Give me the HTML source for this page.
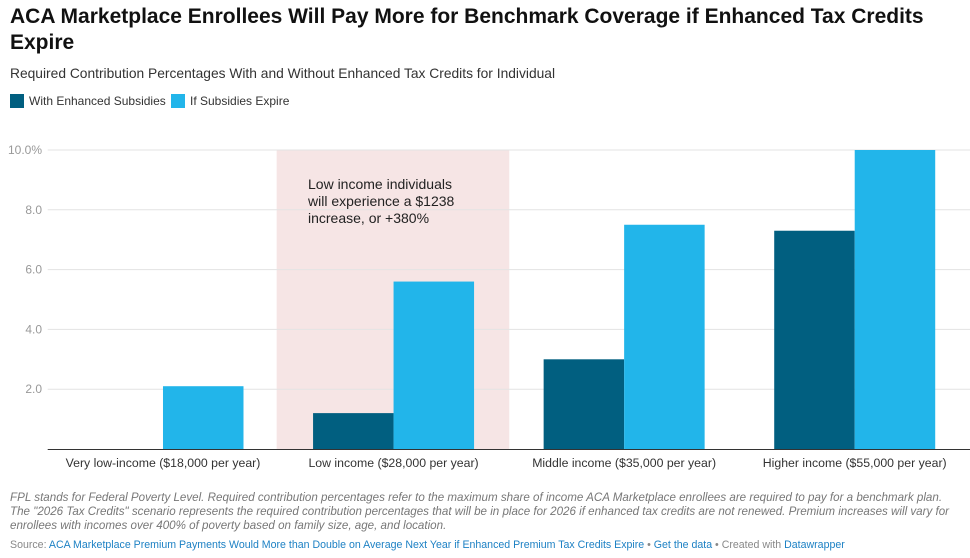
<!DOCTYPE html>
<html><head><meta charset="utf-8"><style>
body{margin:0;width:970px;height:558px;background:#fff;font-family:"Liberation Sans",sans-serif;overflow:hidden;position:relative}
.t{position:absolute;left:10px;top:4px;font-size:21px;font-weight:bold;color:#111;line-height:26px;width:950px}
.s{position:absolute;left:10px;top:66px;font-size:13.8px;color:#333}
.lg{position:absolute;top:94px;font-size:12px;color:#333;display:flex;align-items:center;white-space:nowrap}
.sw{width:14px;height:14px;display:inline-block;margin-right:5px}
.n{position:absolute;left:10px;top:491px;font-size:11.6px;font-style:italic;color:#777;line-height:14px;width:955px}
.src{position:absolute;left:10px;top:539px;font-size:10.6px;color:#888;white-space:nowrap}
.src a{color:#1d81c4;text-decoration:none}
</style></head><body>
<div class="t">ACA Marketplace Enrollees Will Pay More for Benchmark Coverage if Enhanced Tax Credits Expire</div>
<div class="s">Required Contribution Percentages With and Without Enhanced Tax Credits for Individual</div>
<div class="lg" style="left:10px"><span class="sw" style="background:#015f80"></span>With Enhanced Subsidies</div>
<div class="lg" style="left:171px"><span class="sw" style="background:#22b5ea"></span>If Subsidies Expire</div>
<svg id="c" width="970" height="480" style="position:absolute;left:0;top:0"></svg>
<div class="n">FPL stands for Federal Poverty Level. Required contribution percentages refer to the maximum share of income ACA Marketplace enrollees are required to pay for a benchmark plan. The "2026 Tax Credits" scenario represents the required contribution percentages that will be in place for 2026 if enhanced tax credits are not renewed. Premium increases will vary for enrollees with incomes over 400% of poverty based on family size, age, and location.</div>
<div class="src">Source: <a>ACA Marketplace Premium Payments Would More than Double on Average Next Year if Enhanced Premium Tax Credits Expire</a> • <a>Get the data</a> • Created with <a>Datawrapper</a></div>
<script>
const categories=["Very low-income ($18,000 per year)","Low income ($28,000 per year)","Middle income ($35,000 per year)","Higher income ($55,000 per year)"];
const enhanced=[0,1.2,3.0,7.3];
const expire=[2.1,5.6,7.5,10.0];
const ticks=[2,4,6,8,10];
const tickLabels=["2.0","4.0","6.0","8.0","10.0%"];
const NS="http://www.w3.org/2000/svg";
const svg=document.getElementById('c');
const x0=47.7,x1=970,y0=449,yTop=150,ymax=10;
const band=(x1-x0)/categories.length;
const y=v=>y0-(v/ymax)*(y0-yTop);
const bx=i=>x0+band*i;
function mk(t,a){const e=document.createElementNS(NS,t);for(const k in a)e.setAttribute(k,a[k]);svg.appendChild(e);return e;}
let hl=mk('rect',{x:bx(1)-1.6,y:yTop,width:band+2,height:y0-yTop,fill:'#f6e5e5'});


ticks.forEach((t,i)=>{
 const l=mk('line',{x1:x0,x2:x1,y1:y(t),y2:y(t),stroke:'#e3e3e3','stroke-width':1});
 
 
 const tx=mk('text',{x:42,y:y(t)+4,'text-anchor':'end','font-size':12,fill:'#999'});
 tx.textContent=tickLabels[i];
 
 
});
const bw=80.5;
categories.forEach((c,i)=>{
 const cx=bx(i)+band/2;
 const b1=mk('rect',{x:cx-bw,y:y(enhanced[i]),width:bw,height:y0-y(enhanced[i]),fill:'#015f80'});
 
 
 const b2=mk('rect',{x:cx,y:y(expire[i]),width:bw,height:y0-y(expire[i]),fill:'#22b5ea'});
 
 
 const tx=mk('text',{x:cx,y:467,'text-anchor':'middle','font-size':12.3,fill:'#333'});
 tx.textContent=c;
 
 
});
const ax=mk('line',{x1:x0,x2:x1,y1:y0+0.5,y2:y0+0.5,stroke:'#333','stroke-width':1});


["Low income individuals","will experience a $1238","increase, or +380%"].forEach((s,i)=>{
 const tx=mk('text',{x:308,y:189+i*17,'font-size':14,fill:'#222'});
 tx.textContent=s;
 
 
});
</script>
</body></html>
